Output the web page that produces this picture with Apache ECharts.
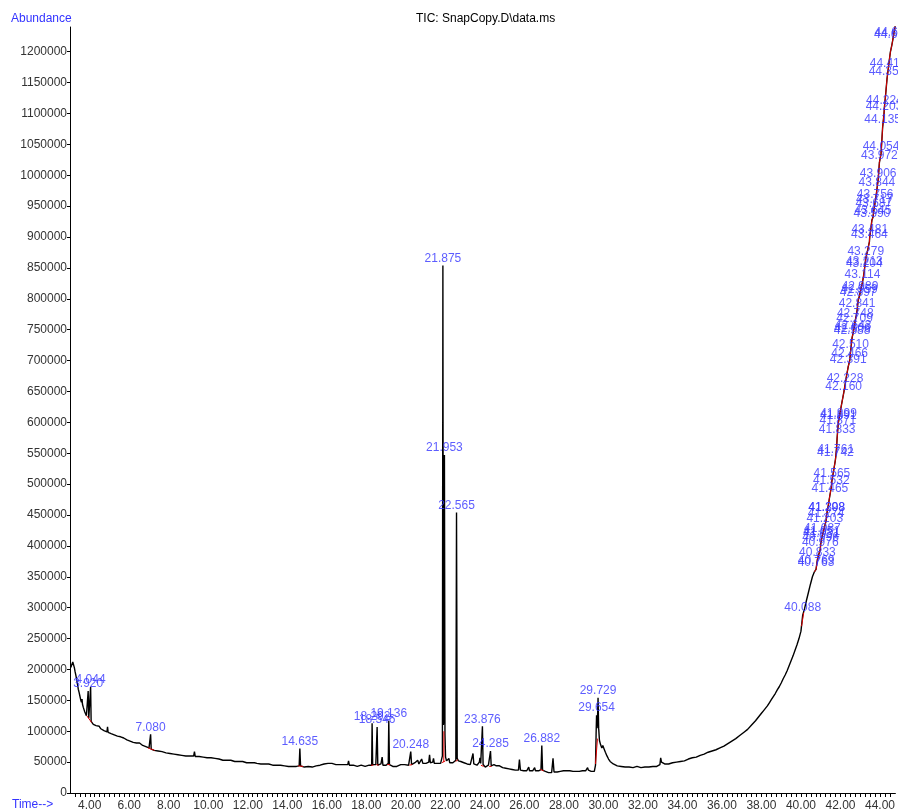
<!DOCTYPE html>
<html>
<head>
<meta charset="utf-8">
<script src="https://cdn.jsdelivr.net/npm/echarts@6/dist/echarts.min.js"></script>
<style>
  html, body { margin: 0; padding: 0; background: #fff; }
  #chart { width: 898px; height: 812px; }
</style>
</head>
<body>
<div id="chart"></div>
<script>
// TIC trace: [retention time (min), abundance in thousands]
const trace = [
  [3.04,203],[3.10,205],[3.14,212],[3.18,209],[3.22,203],[3.26,196],[3.30,190],[3.34,183],[3.38,176],[3.42,168],[3.46,163],
  [3.50,157],[3.54,151],[3.58,147],[3.61,152],[3.63,144],[3.67,139],[3.71,135],[3.75,131],[3.79,128],[3.83,125],
  [3.88,124],[3.920,165],[3.95,121],[3.99,119],[4.044,172],[4.07,116],[4.12,114],[4.18,111],[4.25,112],[4.32,109],
  [4.40,107],[4.48,108],[4.56,104],[4.64,103],[4.72,101],[4.80,102],[4.87,99],[4.90,107],[4.93,98],[5.00,99],
  [5.08,96],[5.16,97],[5.24,94],[5.32,93],[5.40,92],[5.48,90],[5.56,91],[5.64,88],[5.72,89],[5.80,87],
  [5.88,86],[5.96,87],[6.04,84],[6.12,85],[6.20,82],[6.28,83],[6.36,81],[6.44,80],[6.52,81],[6.60,78],
  [6.68,77],[6.76,78],[6.84,75],[6.92,74],[7.00,73],[7.05,72],[7.080,95],[7.11,71],[7.18,71],[7.26,69],
  [7.36,70],[7.46,68],[7.56,68],[7.66,67],[7.76,67],[7.86,65],[7.96,66],[8.06,64],[8.16,65],[8.26,63],
  [8.36,64],[8.46,62],[8.56,63],[8.66,61],[8.76,62],[8.86,60],[8.96,61],[9.06,60],[9.16,59],[9.26,60],
  [9.30,67],[9.34,59],[9.44,58],[9.54,59],[9.64,57],[9.74,58],[9.84,56],[9.94,57],[10.04,56],[10.14,57],
  [10.24,55],[10.34,56],[10.44,54],[10.54,55],[10.64,54],[10.74,53],[10.84,54],[10.94,53],[11.04,52],[11.14,53],
  [11.24,52],[11.34,51],[11.44,52],[11.54,51],[11.64,50],[11.74,51],[11.84,50],[11.94,49],[12.04,50],[12.14,49],
  [12.24,48],[12.34,49],[12.40,52],[12.46,48],[12.56,49],[12.66,47],[12.76,48],[12.86,47],[12.96,46],[13.06,47],
  [13.16,46],[13.26,45],[13.36,46],[13.46,45],[13.56,44],[13.66,45],[13.76,44],[13.86,44],[13.96,45],[14.06,43],
  [14.16,44],[14.26,43],[14.36,42],[14.46,43],[14.56,43],[14.60,44],[14.635,72],[14.67,44],[14.76,43],[14.86,42],
  [14.96,44],[15.06,43],[15.16,44],[15.26,42],[15.36,43],[15.46,44],[15.56,43],[15.66,45],[15.76,46],[15.86,47],
  [15.96,46],[16.06,48],[16.16,47],[16.26,48],[16.36,47],[16.46,46],[16.56,47],[16.66,46],[16.76,45],[16.86,46],
  [16.96,45],[17.06,46],[17.10,52],[17.14,45],[17.24,44],[17.34,45],[17.44,44],[17.54,43],[17.64,44],[17.74,45],
  [17.84,44],[17.94,43],[18.04,44],[18.14,45],[18.24,44],[18.27,45],[18.292,113],[18.32,46],[18.40,45],[18.48,46],
  [18.52,46],[18.546,107],[18.58,45],[18.66,44],[18.74,47],[18.80,58],[18.84,45],[18.92,46],[19.00,45],[19.08,47],
  [19.11,48],[19.136,117],[19.17,46],[19.24,44],[19.34,43],[19.44,44],[19.54,43],[19.64,45],[19.74,46],[19.84,48],
  [19.94,46],[20.04,47],[20.14,45],[20.20,46],[20.248,67],[20.29,46],[20.38,47],[20.46,49],[20.52,47],[20.60,53],
  [20.66,47],[20.74,49],[20.80,55],[20.86,48],[20.94,47],[21.02,48],[21.10,47],[21.16,50],[21.20,62],[21.24,49],
  [21.30,48],[21.36,50],[21.40,56],[21.44,48],[21.52,49],[21.60,48],[21.68,49],[21.76,48],[21.83,50],[21.85,60],
  [21.875,854],[21.90,110],[21.925,120],[21.953,547],[21.98,95],[22.01,58],[22.06,52],[22.12,50],[22.18,56],[22.22,49],
  [22.30,50],[22.38,49],[22.46,51],[22.53,53],[22.565,454],[22.60,56],[22.66,52],[22.72,54],[22.78,51],[22.86,52],
  [22.94,49],[23.02,48],[23.10,47],[23.18,48],[23.26,46],[23.34,47],[23.40,64],[23.44,47],[23.52,46],[23.60,45],
  [23.66,47],[23.72,50],[23.75,57],[23.79,48],[23.84,47],[23.876,108],[23.91,46],[23.96,43],[24.02,42],[24.10,44],
  [24.18,45],[24.24,44],[24.285,68],[24.32,44],[24.40,43],[24.46,46],[24.52,47],[24.58,44],[24.66,43],[24.74,44],
  [24.82,42],[24.90,41],[24.98,42],[25.06,40],[25.14,41],[25.22,39],[25.30,40],[25.38,38],[25.46,39],[25.54,37],
  [25.62,38],[25.70,37],[25.75,54],[25.80,37],[25.88,38],[25.96,36],[26.04,37],[26.12,36],[26.18,38],[26.22,42],
  [26.26,36],[26.34,37],[26.42,36],[26.48,37],[26.52,41],[26.56,36],[26.64,37],[26.72,36],[26.80,38],[26.84,38],
  [26.882,77],[26.92,37],[26.98,36],[27.06,35],[27.14,34],[27.22,33],[27.30,34],[27.38,33],[27.45,56],[27.50,34],
  [27.58,33],[27.66,34],[27.74,33],[27.82,35],[27.90,34],[27.98,36],[28.06,35],[28.14,36],[28.22,35],[28.30,36],
  [28.38,34],[28.46,35],[28.54,34],[28.62,35],[28.70,34],[28.78,35],[28.86,35],[28.94,36],[29.02,35],[29.10,36],
  [29.16,38],[29.20,41],[29.24,37],[29.30,36],[29.38,35],[29.46,34],[29.54,35],[29.60,45],[29.63,95],[29.654,126],
  [29.68,105],[29.70,118],[29.729,154],[29.76,105],[29.80,85],[29.86,78],[29.92,73],[29.97,77],[30.00,78],[30.04,71],
  [30.10,66],[30.18,60],[30.26,55],[30.34,51],[30.42,49],[30.50,47],[30.60,46],[30.70,44],[30.80,45],[30.90,43],
  [31.00,44],[31.10,42],[31.20,43],[31.30,42],[31.40,43],[31.50,41],[31.60,42],[31.70,43],[31.80,42],[31.90,41],
  [32.00,43],[32.10,42],[32.20,43],[32.30,42],[32.40,44],[32.50,43],[32.60,44],[32.70,43],[32.80,44],[32.86,46],
  [32.90,57],[32.94,50],[33.00,48],[33.10,47],[33.20,48],[33.30,47],[33.40,48],[33.50,49],[33.60,48],[33.70,50],
  [33.80,51],[33.90,51],[34.00,53],[34.10,52],[34.20,54],[34.30,55],[34.40,55],[34.50,57],[34.60,58],[34.70,58],
  [34.80,60],[34.90,61],[35.00,62],[35.10,63],[35.20,64],[35.30,66],[35.40,66],[35.50,68],[35.60,69],[35.70,70],
  [35.80,71],[35.90,73],[36.00,74],[36.10,76],[36.20,77],[36.30,80],[36.40,81],[36.50,84],[36.60,86],[36.70,88],
  [36.80,90],[36.90,93],[37.00,95],[37.10,98],[37.20,100],[37.30,103],[37.40,106],[37.50,110],[37.60,113],[37.70,117],
  [37.80,121],[37.90,125],[38.00,129],[38.10,133],[38.20,137],[38.30,141],[38.40,146],[38.50,151],[38.60,156],[38.70,161],
  [38.80,167],[38.90,172],[39.00,178],[39.10,185],[39.20,191],[39.30,198],[39.40,206],[39.50,214],[39.60,222],[39.70,231],
  [39.80,240],[39.90,250],[40.00,262],[40.088,288],[40.18,298],[40.28,312],[40.38,325],[40.48,338],[40.58,350],[40.68,358],
  [40.763,362],[40.769,364],[40.833,378],[40.90,386],[40.976,394],[40.996,402],[41.031,409],[41.051,411],[41.087,417],[41.14,424],
  [41.203,432],[41.274,441],[41.298,450],[41.308,451],[41.38,465],[41.465,482],[41.532,494],[41.565,505],[41.65,521],[41.742,539],
  [41.761,544],[41.80,558],[41.833,576],[41.871,592],[41.891,599],[41.899,602],[41.97,614],[42.06,630],[42.160,647],[42.228,660],
  [42.30,674],[42.391,690],[42.466,700],[42.510,714],[42.55,726],[42.588,737],[42.606,740],[42.643,745],[42.709,757],[42.748,765],
  [42.80,773],[42.841,781],[42.897,798],[42.959,804],[42.989,809],[43.05,818],[43.114,827],[43.16,835],[43.204,845],[43.213,848],
  [43.279,865],[43.37,878],[43.464,892],[43.481,900],[43.53,912],[43.590,927],[43.645,932],[43.687,943],[43.717,949],[43.756,957],
  [43.80,966],[43.844,977],[43.906,992],[43.972,1021],[44.054,1035],[44.135,1078],[44.203,1099],[44.224,1110],[44.29,1132],[44.356,1156],
  [44.410,1170],[44.47,1186],[44.53,1200],[44.59,1209],[44.631,1216],[44.652,1219],[44.75,1238],[44.80,1248]
];

// integrated peaks (labelled retention times)
const peakTimes = [
  3.920, 4.044, 7.080, 14.635, 18.292, 18.546, 19.136, 20.248, 21.875, 21.953, 22.565, 23.876, 24.285, 26.882,
  29.654, 29.729, 40.088, 40.763, 40.769, 40.833, 40.976, 40.996, 41.031, 41.051, 41.087, 41.203, 41.274, 41.298,
  41.308, 41.465, 41.532, 41.565, 41.742, 41.761, 41.833, 41.871, 41.891, 41.899, 42.160, 42.228, 42.391, 42.466,
  42.510, 42.588, 42.606, 42.643, 42.709, 42.748, 42.841, 42.897, 42.959, 42.989, 43.114, 43.204, 43.213, 43.279,
  43.464, 43.481, 43.590, 43.645, 43.687, 43.717, 43.756, 43.844, 43.906, 43.972, 44.054, 44.135, 44.203, 44.224,
  44.356, 44.410, 44.631, 44.652
];

// red integration baselines: [t1, v1, t2, v2] (abundance in thousands)
const baselineSegs = [
  [3.85,125,4.10,114], [6.95,73,7.28,69], [14.55,44,14.80,43], [18.24,45,18.36,45], [18.50,46,18.62,45],
  [19.06,46,19.20,46], [20.18,45,20.32,46], [21.82,49,22.00,52], [21.92,50,21.925,100], [22.52,51,22.64,54],
  [23.80,45,23.94,43], [24.22,43,24.34,43], [26.80,38,26.98,36], [29.60,47,29.70,88], [40.03,270,40.14,292]
];
const redCurveStart = 40.68;

const xLabels = [4, 6, 8, 10, 12, 14, 16, 18, 20, 22, 24, 26, 28, 30, 32, 34, 36, 38, 40, 42, 44];
const yLabels = [0, 50000, 100000, 150000, 200000, 250000, 300000, 350000, 400000, 450000, 500000, 550000,
  600000, 650000, 700000, 750000, 800000, 850000, 900000, 950000, 1000000, 1050000, 1100000, 1150000, 1200000];

const FONT = 'Liberation Sans, Arial, sans-serif';
const BLUE = '#3333ff';

const xTicks = [];
for (let t = 3.25; t <= 44.6; t += 0.25) xTicks.push(Math.round(t * 100) / 100);

const toAbs = p => [p[0], p[1] * 1000];
const traceData = trace.map(toAbs);
const redCurve = trace.filter(p => p[0] >= redCurveStart).map(toAbs);
const peakData = peakTimes.map(t => {
  const p = trace.find(q => Math.abs(q[0] - t) < 1e-6);
  return [t, p[1] * 1000];
});

const chart = echarts.init(document.getElementById('chart'), null, { renderer: 'canvas' });

const series = [
  {
    type: 'line',
    data: traceData,
    symbol: 'none',
    lineStyle: { color: '#000', width: 1.4 },
    z: 2
  },
  {
    type: 'line',
    data: redCurve,
    symbol: 'none',
    lineStyle: { color: '#e00000', width: 1 },
    z: 3
  }
];

baselineSegs.forEach(s => {
  series.push({
    type: 'line',
    data: [[s[0], s[1] * 1000], [s[2], s[3] * 1000]],
    symbol: 'none',
    lineStyle: { color: '#e00000', width: 1 },
    z: 3
  });
});

series.push({
  type: 'scatter',
  data: peakData,
  symbolSize: 0,
  silent: true,
  z: 5,
  label: {
    show: true,
    position: 'top',
    distance: 1,
    color: BLUE,
    fontFamily: FONT,
    fontSize: 12,
    formatter: p => p.value[0].toFixed(3)
  }
});

chart.setOption({
  animation: false,
  backgroundColor: '#fff',
  grid: { left: 70, right: 0, top: 27, bottom: 19 },
  xAxis: {
    type: 'value',
    min: 3.0,
    max: 44.78,
    axisLine: { lineStyle: { color: '#000', width: 1 } },
    axisTick: { show: true, customValues: xTicks, length: 4, lineStyle: { color: '#000' } },
    axisLabel: {
      customValues: xLabels,
      formatter: v => v.toFixed(2),
      color: '#333',
      fontFamily: FONT,
      fontSize: 12,
      margin: 7
    },
    splitLine: { show: false }
  },
  yAxis: {
    type: 'value',
    min: 0,
    max: 1240000,
    axisLine: { show: true, lineStyle: { color: '#000', width: 1 } },
    axisTick: { show: true, customValues: yLabels, length: 3, lineStyle: { color: '#000' } },
    axisLabel: {
      customValues: yLabels,
      formatter: v => String(v),
      color: '#333',
      fontFamily: FONT,
      fontSize: 12,
      margin: 3
    },
    splitLine: { show: false }
  },
  graphic: [
    {
      type: 'text', left: 11, top: 13,
      style: { text: 'Abundance', fill: BLUE, font: '12px ' + FONT }
    },
    {
      type: 'text', left: 12, top: 799,
      style: { text: 'Time-->', fill: BLUE, font: '12px ' + FONT }
    },
    {
      type: 'text', left: 416, top: 13,
      style: { text: 'TIC: SnapCopy.D\\data.ms', fill: '#000', font: '12px ' + FONT }
    }
  ],
  series: series
});
</script>
</body>
</html>
